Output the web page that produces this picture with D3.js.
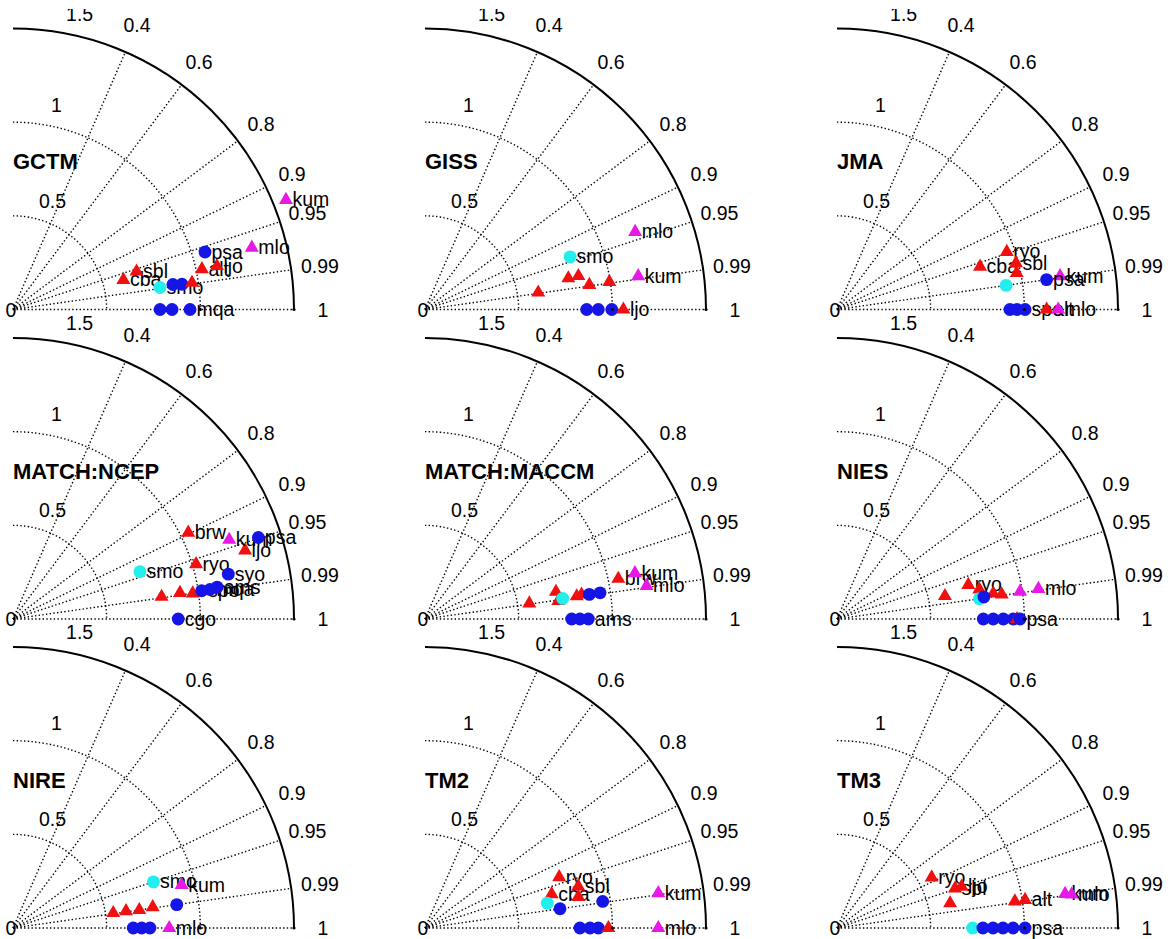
<!DOCTYPE html>
<html>
<head>
<meta charset="utf-8">
<script src="https://cdn.jsdelivr.net/npm/d3@7/dist/d3.min.js"></script>
<style>
  body { margin: 0; background: #fff; }
  svg text { font-family: "Liberation Sans", Arial, Helvetica, sans-serif; fill: #000; }
</style>
</head>
<body>
<div id="chart"></div>
<script>
// Datos: [desviacion tipica normalizada, correlacion, tipo, estacion]
// tipo: r = triangulo rojo, m = triangulo magenta, b = circulo azul, c = circulo cian
const models = ['GCTM', 'GISS', 'JMA', 'MATCH:NCEP', 'MATCH:MACCM', 'NIES', 'NIRE', 'TM2', 'TM3'];
const corrTicks = [0.4, 0.6, 0.8, 0.9, 0.95, 0.99, 1];
const stdTicks = [0.5, 1, 1.5];

const gctm = [
  [0.785, 1, 'b', ''], [0.849, 1, 'b', ''], [0.945, 1, 'b', 'mqa'],
  [0.610, 0.966, 'r', 'cba'], [0.690, 0.956, 'r', 'sbl'],
  [0.793, 0.989, 'c', 'smo'], [0.864, 0.988, 'b', ''], [0.912, 0.989, 'b', ''],
  [0.966, 0.989, 'r', ''], [1.031, 0.978, 'r', 'alt'], [1.113, 0.978, 'r', 'ljo'],
  [1.070, 0.958, 'b', 'psa'], [1.317, 0.968, 'm', 'mlo'], [1.570, 0.928, 'm', 'kum']
];
const giss = [
  [0.863, 1, 'b', ''], [0.925, 1, 'b', ''], [0.997, 1, 'b', ''], [1.059, 1, 'r', 'ljo'],
  [0.611, 0.989, 'r', ''], [0.783, 0.977, 'r', ''], [0.838, 0.977, 'r', ''],
  [0.887, 0.989, 'r', ''], [0.995, 0.989, 'r', ''],
  [0.824, 0.940, 'c', 'smo'], [1.152, 0.988, 'm', 'kum'], [1.196, 0.938, 'm', 'mlo']
];
const jma = [
  [0.923, 1, 'b', ''], [0.961, 1, 'b', ''], [1.004, 1, 'b', 'spo'],
  [1.119, 1, 'r', 'alt'], [1.181, 1, 'm', 'mlo'],
  [0.912, 0.990, 'c', ''], [0.797, 0.958, 'r', 'cba'], [0.957, 0.947, 'r', 'ryo'],
  [0.979, 0.980, 'r', ''], [0.987, 0.968, 'r', 'sbl'],
  [1.204, 0.989, 'm', 'kum'], [1.130, 0.990, 'b', 'psa']
];
const ncep = [
  [0.882, 1, 'b', 'cgo'],
  [0.802, 0.989, 'r', ''], [0.902, 0.988, 'r', ''], [0.969, 0.990, 'r', ''],
  [1.018, 0.989, 'b', 'spo'], [1.063, 0.989, 'b', 'mqa'], [1.103, 0.988, 'b', 'ams'],
  [0.723, 0.937, 'c', 'smo'], [1.020, 0.958, 'r', 'ryo'], [1.174, 0.979, 'b', 'syo'],
  [1.043, 0.897, 'r', 'brw'], [1.292, 0.959, 'r', 'ljo'],
  [1.229, 0.939, 'm', 'kum'], [1.380, 0.949, 'b', 'psa']
];
const maccm = [
  [0.783, 1, 'b', ''], [0.827, 1, 'b', ''], [0.872, 1, 'b', 'ams'],
  [0.563, 0.989, 'r', ''], [0.714, 0.979, 'r', ''], [0.718, 0.991, 'r', ''],
  [0.743, 0.989, 'c', ''], [0.819, 0.989, 'r', ''], [0.846, 0.988, 'r', ''],
  [0.887, 0.989, 'b', ''], [0.945, 0.989, 'b', ''],
  [1.054, 0.979, 'r', 'brw'], [1.147, 0.977, 'm', 'kum'], [1.196, 0.989, 'm', 'mlo']
];
const nies = [
  [0.781, 1, 'b', ''], [0.834, 1, 'b', ''], [0.888, 1, 'b', ''], [0.941, 1, 'b', ''],
  [0.961, 1, 'r', ''], [0.977, 1, 'b', 'psa'],
  [0.589, 0.978, 'r', ''], [0.724, 0.968, 'r', 'ryo'], [0.776, 0.979, 'r', ''],
  [0.845, 0.987, 'r', ''], [0.889, 0.989, 'r', ''],
  [0.768, 0.990, 'c', ''], [0.793, 0.989, 'b', ''],
  [0.988, 0.989, 'm', ''], [1.087, 0.989, 'm', 'mlo']
];
const nire = [
  [0.642, 1, 'b', ''], [0.687, 1, 'b', ''], [0.731, 1, 'b', ''], [0.834, 1, 'm', 'mlo'],
  [0.541, 0.989, 'r', ''], [0.610, 0.989, 'r', ''], [0.681, 0.990, 'r', ''], [0.754, 0.989, 'r', ''],
  [0.883, 0.990, 'b', ''], [0.789, 0.950, 'c', 'smo'], [0.929, 0.969, 'm', 'kum']
];
const tm2 = [
  [0.827, 1, 'b', ''], [0.881, 1, 'b', ''], [0.925, 1, 'b', ''], [0.979, 1, 'r', ''],
  [1.245, 1, 'm', 'mlo'],
  [0.766, 0.935, 'r', 'ryo'], [0.700, 0.966, 'r', 'cba'], [0.848, 0.965, 'r', 'sbl'],
  [0.835, 0.980, 'r', ''], [0.666, 0.980, 'c', ''], [0.728, 0.990, 'b', ''],
  [0.959, 0.989, 'b', ''], [1.259, 0.989, 'm', 'kum']
];
const tm3 = [
  [0.724, 1, 'c', ''], [0.779, 1, 'b', ''], [0.833, 1, 'b', ''], [0.886, 1, 'b', ''],
  [0.940, 1, 'b', ''], [1.004, 1, 'b', 'psa'],
  [0.573, 0.882, 'r', 'ryo'], [0.665, 0.948, 'r', 'sbl'], [0.701, 0.949, 'r', 'ljo'],
  [0.618, 0.977, 'r', ''], [0.960, 0.989, 'r', ''], [1.015, 0.989, 'r', 'alt'],
  [1.231, 0.989, 'm', 'kum'], [1.265, 0.990, 'm', 'mlo']
];
const panelData = [gctm, giss, jma, ncep, maccm, nies, nire, tm2, tm3];

//Dimensiones
const width = 1170, height = 939;
const R = 281;
const colX = [13, 425, 837], rowY = [309.5, 619, 928];
const stdLabelDeg = [70, 78, 77.3];

const colores = { r: '#f01010', m: '#e619e6', b: '#1515e6', c: '#22eeee' };

const rScale = d3.scaleLinear().domain([0, 1.5]).range([0, R]);
const pos = (s, c) => [rScale(s) * c, -rScale(s) * Math.sqrt(Math.max(0, 1 - c * c))];

const svg = d3.select('#chart').append('svg')
  .attr('width', width)
  .attr('height', height);

svg.append('rect').attr('width', width).attr('height', height).attr('fill', '#fff');

const dotted = sel => sel.attr('fill', 'none').attr('stroke', '#000')
  .attr('stroke-width', 1.4).attr('stroke-dasharray', '1.4,2.3');

models.forEach((name, i) => {
  const g = svg.append('g')
    .attr('transform', 'translate(' + colX[i % 3] + ',' + rowY[Math.floor(i / 3)] + ')');

  //Lineas de correlacion
  g.selectAll('.corr-line')
    .data(corrTicks)
    .enter()
    .append('line')
    .attr('x1', 0).attr('y1', 0)
    .attr('x2', d => pos(1.5, d)[0])
    .attr('y2', d => pos(1.5, d)[1])
    .call(dotted);

  //Arcos de desviacion tipica
  stdTicks.forEach(s => {
    const p = d3.path();
    p.moveTo(0, -rScale(s));
    p.arc(0, 0, rScale(s), -Math.PI / 2, 0);
    const arc = g.append('path').attr('d', p.toString());
    if (s === 1.5) {
      arc.attr('fill', 'none').attr('stroke', '#000').attr('stroke-width', 2);
    } else {
      arc.call(dotted);
    }
  });

  //Etiquetas de correlacion
  g.selectAll('.corr-label')
    .data(corrTicks)
    .enter()
    .append('text')
    .attr('x', d => (R + 29) * d)
    .attr('y', d => -(R + 29) * Math.sqrt(1 - d * d))
    .attr('text-anchor', 'middle')
    .attr('dy', '0.36em')
    .style('font-size', '19.5px')
    .text(d => d);

  //Etiquetas de desviacion
  stdTicks.forEach((s, j) => {
    const a = stdLabelDeg[j] * Math.PI / 180;
    g.append('text')
      .attr('x', (rScale(s) + 22) * Math.cos(a))
      .attr('y', -(rScale(s) + 22) * Math.sin(a))
      .attr('text-anchor', 'middle')
      .attr('dy', '0.36em')
      .style('font-size', '19.5px')
      .text(s);
  });

  g.append('text')
    .attr('x', -2).attr('y', 0)
    .attr('text-anchor', 'middle')
    .attr('dy', '0.36em')
    .style('font-size', '19.5px')
    .text('0');

  //Titulo
  g.append('text')
    .attr('x', 0).attr('y', -148)
    .attr('dy', '0.36em')
    .style('font-size', '22px')
    .style('font-weight', 'bold')
    .text(name);

  //Puntos de estaciones
  panelData[i].forEach(d => {
    const [x, y] = pos(d[0], d[1]);
    const tri = d[2] === 'r' || d[2] === 'm';
    g.append('path')
      .attr('transform', 'translate(' + x + ',' + y + ')')
      .attr('d', d3.symbol().type(tri ? d3.symbolTriangle : d3.symbolCircle).size(tri ? 85 : 130)())
      .attr('fill', colores[d[2]]);
    if (d[3]) {
      g.append('text')
        .attr('x', x + 6.5)
        .attr('y', y + 6.5)
        .style('font-size', '19.5px')
        .text(d[3]);
    }
  });

  //Punto de referencia y final del eje
  g.append('circle').attr('cx', rScale(1)).attr('cy', 0).attr('r', 1.6).attr('fill', '#000');
  g.append('circle').attr('cx', R).attr('cy', 0).attr('r', 1.6).attr('fill', '#000');
});

//Recorte superior como en la figura original
svg.append('rect').attr('width', width).attr('height', 9).attr('fill', '#fff');
</script>
</body>
</html>
